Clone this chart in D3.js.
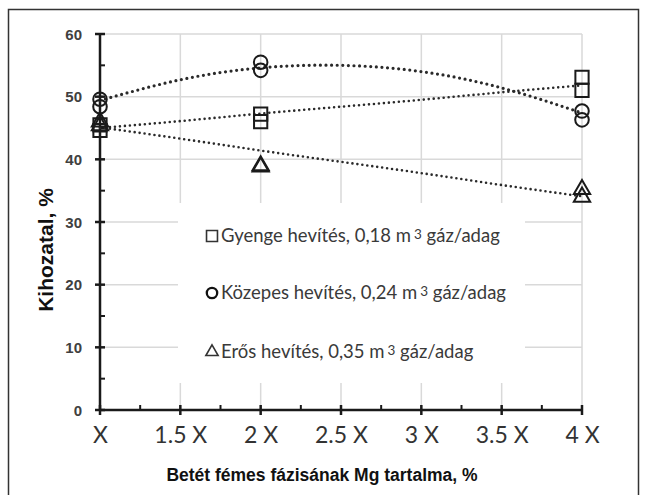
<!DOCTYPE html>
<html>
<head>
<meta charset="utf-8">
<script src="https://cdn.jsdelivr.net/npm/d3@7"></script>
<style>
  html, body { margin: 0; padding: 0; background: #fff; }
  svg { display: block; }
</style>
</head>
<body>
<svg id="chart" width="646" height="495"></svg>
<script>
// Mg content levels (multiples of X) and axis tick labels
const xTicks = [1, 1.5, 2, 2.5, 3, 3.5, 4];
const xTickLabels = ["X", "1.5 X", "2 X", "2.5 X", "3 X", "3.5 X", "4 X"];
const yTicks = [0, 10, 20, 30, 40, 50, 60];

// Measured yield, two melts per level
const sampleX = [1, 1, 2, 2, 4, 4];
const gyenge = [45.5, 44.6, 47.2, 46.0, 53.1, 51.0];
const kozepes = [49.6, 48.4, 55.5, 54.2, 47.7, 46.3];
const eros = [46.0, 45.4, 39.0, 38.8, 35.2, 34.0];

// Trendline values at each tick level
const trendGyenge = [45.0, 46.1, 47.3, 48.4, 49.5, 50.7, 51.8];
const trendKozepes = [49.4, 52.7, 54.6, 55.0, 54.0, 51.4, 47.4];
const trendEros = [45.1, 43.3, 41.4, 39.6, 37.8, 35.9, 34.1];

// Legend texts
const legendLabels = [
  ["Gyenge hevítés, 0,18 m", "3", " gáz/adag"],
  ["Közepes hevítés, 0,24 m", "3", " gáz/adag"],
  ["Erős hevítés, 0,35 m", "3", " gáz/adag"]
];

const svg = d3.select("#chart");

const x = d3.scaleLinear().domain([1, 4]).range([100, 582]);
const y = d3.scaleLinear().domain([0, 60]).range([410, 34]);

// outer frame
svg.append("rect")
  .attr("x", 8.5).attr("y", 9.5)
  .attr("width", 630).attr("height", 500)
  .attr("fill", "none").attr("stroke", "#333").attr("stroke-width", 1.5);

// gridlines
const grid = svg.append("g").attr("stroke", "#d9d9d9").attr("stroke-width", 1.5);
grid.selectAll("line.h").data(yTicks.filter(d => d > 0)).join("line")
  .attr("x1", x(1)).attr("x2", x(4))
  .attr("y1", d => y(d)).attr("y2", d => y(d));
grid.selectAll("line.v").data(xTicks.filter(d => d > 1)).join("line")
  .attr("x1", d => x(d)).attr("x2", d => x(d))
  .attr("y1", y(60)).attr("y2", y(0));

// legend panel (covers the grid behind it)
svg.append("rect")
  .attr("x", 178).attr("y", 203).attr("width", 347).attr("height", 180)
  .attr("fill", "#fff");

// axes
const axisColor = "#1a1a1a";
const yAxis = d3.axisLeft(y).tickValues(yTicks).tickSize(0).tickFormat(d3.format("d"));
const gy = svg.append("g").attr("transform", `translate(${x(1)},0)`).call(yAxis);
gy.select(".domain").remove();
gy.selectAll("text")
  .attr("x", -18).attr("dy", "0.35em")
  .attr("font-family", "Liberation Sans, Arial, sans-serif")
  .attr("font-weight", "bold").attr("font-size", 15).attr("fill", "#404040");

const xAxis = d3.axisBottom(x).tickValues(xTicks).tickSize(0)
  .tickFormat((d, i) => xTickLabels[i]);
const gx = svg.append("g").attr("transform", `translate(0,${y(0)})`).call(xAxis);
gx.select(".domain").remove();
gx.selectAll("text")
  .attr("y", 17).attr("dy", "0.71em")
  .attr("font-family", "Lato, sans-serif").attr("font-size", 23).attr("fill", "#333");

// axis lines and ticks
const ax = svg.append("g").attr("stroke", axisColor).attr("stroke-width", 2.5);
ax.append("line").attr("x1", x(1)).attr("x2", x(1)).attr("y1", y(60)).attr("y2", y(0));
ax.append("line").attr("x1", x(1)).attr("x2", x(4)).attr("y1", y(0)).attr("y2", y(0));
ax.selectAll("line.ym").data(yTicks).join("line")
  .attr("x1", x(1) - 5).attr("x2", x(1) + 5)
  .attr("y1", d => y(d)).attr("y2", d => y(d));
ax.selectAll("line.yn").data(yTicks.slice(1).map(d => d - 5)).join("line")
  .attr("stroke-width", 2)
  .attr("x1", x(1)).attr("x2", x(1) + 5)
  .attr("y1", d => y(d)).attr("y2", d => y(d));
ax.selectAll("line.xm").data(xTicks).join("line")
  .attr("x1", d => x(d)).attr("x2", d => x(d))
  .attr("y1", y(0) - 5).attr("y2", y(0) + 5);
ax.selectAll("line.xn").data(xTicks.slice(1).map(d => d - 0.25)).join("line")
  .attr("stroke-width", 2)
  .attr("x1", d => x(d)).attr("x2", d => x(d))
  .attr("y1", y(0) - 5).attr("y2", y(0));

// axis titles
svg.append("text")
  .attr("x", 322).attr("y", 481).attr("text-anchor", "middle")
  .attr("font-family", "Liberation Sans, Arial, sans-serif")
  .attr("font-weight", "bold").attr("font-size", 17.5).attr("fill", "#111")
  .text("Betét fémes fázisának Mg tartalma, %");
svg.append("text")
  .attr("transform", "translate(53,250) rotate(-90)").attr("text-anchor", "middle")
  .attr("font-family", "Liberation Sans, Arial, sans-serif")
  .attr("font-weight", "bold").attr("font-size", 21).attr("fill", "#111")
  .text("Kihozatal, %");

// dotted trendlines
const trendLine = d3.line().x((d, i) => x(xTicks[i])).y(d => y(d)).curve(d3.curveNatural);
[[trendGyenge, 2.6], [trendKozepes, 3.2], [trendEros, 2.6]].forEach(([vals, w]) => {
  svg.append("path")
    .datum(vals)
    .attr("d", trendLine)
    .attr("fill", "none").attr("stroke", "#2a2a2a")
    .attr("stroke-width", w).attr("stroke-linecap", "round")
    .attr("stroke-dasharray", `0 ${w + 2.4}`);
});

// markers
const markerStyle = sel => sel.attr("fill", "none").attr("stroke", "#1a1a1a").attr("stroke-width", 2);
const squareSym = d3.symbol().type(d3.symbolSquare).size(175);
const circleSym = d3.symbol().type(d3.symbolCircle).size(145);
const triSym = d3.symbol().type(d3.symbolTriangle).size(115);

svg.append("g").selectAll("path").data(eros).join("path")
  .attr("d", triSym)
  .attr("transform", (d, i) => `translate(${x(sampleX[i])},${y(d)})`)
  .call(markerStyle);
svg.append("g").selectAll("path").data(kozepes).join("path")
  .attr("d", circleSym)
  .attr("transform", (d, i) => `translate(${x(sampleX[i])},${y(d)})`)
  .call(markerStyle);
svg.append("g").selectAll("path").data(gyenge).join("path")
  .attr("d", squareSym)
  .attr("transform", (d, i) => `translate(${x(sampleX[i])},${y(d)})`)
  .call(markerStyle);

// legend
const legendSyms = [
  d3.symbol().type(d3.symbolSquare).size(120),
  d3.symbol().type(d3.symbolCircle).size(85),
  d3.symbol().type(d3.symbolTriangle).size(65)
];
const legendRowY = [236, 293, 352];
legendLabels.forEach((parts, i) => {
  svg.append("path")
    .attr("d", legendSyms[i]())
    .attr("transform", `translate(212,${legendRowY[i]})`)
    .attr("fill", "none").attr("stroke", i === 1 ? "#111" : "#333")
    .attr("stroke-width", i === 1 ? 2.3 : 1.6);
  const t = svg.append("text")
    .attr("x", 221).attr("y", legendRowY[i] + 6)
    .attr("font-family", "Lato, sans-serif").attr("font-size", 18.5).attr("fill", "#3a3a3a");
  t.append("tspan").text(parts[0]);
  t.append("tspan").attr("dx", 3).attr("dy", -3).attr("font-size", 13.5).text(parts[1]);
  t.append("tspan").attr("dy", 3).text(parts[2]);
});
</script>
</body>
</html>
